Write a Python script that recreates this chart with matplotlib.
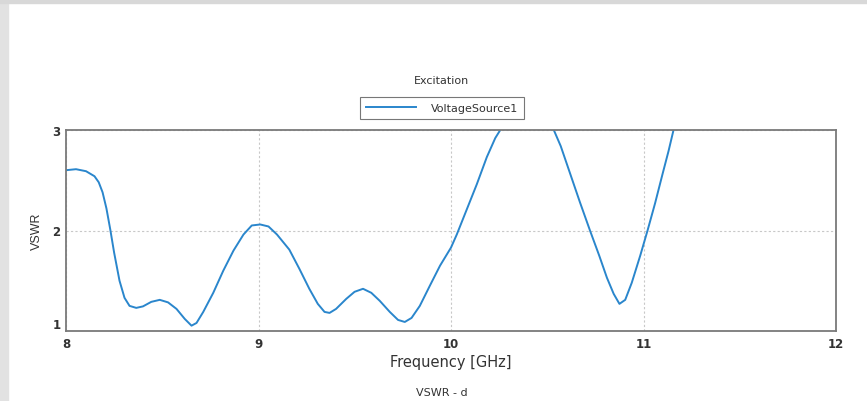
import matplotlib
matplotlib.use('Agg')
import matplotlib.pyplot as plt
from matplotlib.patches import Rectangle

# VSWR (values above 3 are clipped by the axes)
freq = [8.000, 8.052, 8.104, 8.148, 8.170, 8.190, 8.210, 8.230, 8.250, 8.278,
        8.304, 8.330, 8.365, 8.400, 8.443, 8.487, 8.530, 8.574, 8.617, 8.652,
        8.678, 8.713, 8.765, 8.817, 8.870, 8.922, 8.965, 9.009, 9.052, 9.096,
        9.160, 9.212, 9.264, 9.308, 9.343, 9.369, 9.403, 9.456, 9.499, 9.543,
        9.586, 9.630, 9.682, 9.725, 9.760, 9.795, 9.838, 9.890, 9.943, 10.000,
        10.030, 10.082, 10.134, 10.186, 10.230, 10.256, 10.300, 10.350, 10.400, 10.450,
        10.500, 10.534, 10.570, 10.620, 10.670, 10.722, 10.770, 10.810, 10.845, 10.875,
        10.905, 10.939, 10.983, 11.021, 11.060, 11.100, 11.130, 11.156, 11.200]
vswr = [2.60, 2.61, 2.59, 2.54, 2.48, 2.38, 2.22, 2.01, 1.78, 1.50,
        1.33, 1.25, 1.23, 1.245, 1.29, 1.31, 1.285, 1.22, 1.12, 1.053,
        1.08, 1.19, 1.38, 1.60, 1.80, 1.96, 2.05, 2.06, 2.04, 1.96,
        1.81, 1.62, 1.42, 1.27, 1.19, 1.18, 1.22, 1.32, 1.39, 1.42,
        1.38, 1.30, 1.19, 1.11, 1.09, 1.13, 1.25, 1.45, 1.65, 1.83,
        1.96, 2.21, 2.46, 2.73, 2.92, 3.00, 3.12, 3.22, 3.26, 3.22,
        3.12, 3.00, 2.84, 2.56, 2.28, 2.00, 1.75, 1.53, 1.37, 1.27,
        1.31, 1.48, 1.75, 2.00, 2.27, 2.57, 2.79, 3.00, 3.30]
x_ticks = [8, 9, 10, 11, 12]
y_ticks = [1, 2, 3]

fig = plt.figure(figsize=(8.67, 4.02), dpi=100)
plt.rcParams['font.family'] = ['DejaVu Sans']

# page edges of the scanned figure
fig.patches.append(Rectangle((0, 0), 8 / 867, 1, transform=fig.transFigure,
                             color='#e2e2e2', zorder=0))
fig.patches.append(Rectangle((0, 1 - 4 / 402), 1, 4 / 402, transform=fig.transFigure,
                             color='#d8d8d8', zorder=0))

ax = fig.add_axes([66 / 867, 1 - 332 / 402, 770 / 867, 201 / 402])
ax.plot(freq, vswr, color='#2a86cc', linewidth=1.4, label='VoltageSource1')
ax.set_xlim(8, 12)
ax.set_ylim(1, 3)
ax.set_xticks(x_ticks)
ax.set_yticks(y_ticks)
ax.tick_params(length=0, labelsize=8.5, colors='#333333', pad=4)
for lab in ax.get_xticklabels() + ax.get_yticklabels():
    lab.set_fontweight('bold')
ax.get_yticklabels()[0].set_va('bottom')
ax.grid(True, color='#c8c8c8', linestyle=(0, (2, 2)), linewidth=0.8)
for s in ax.spines.values():
    s.set_color('#7a7a7a')
    s.set_linewidth(1.3)

ax.set_xlabel('Frequency [GHz]', fontsize=10.5, color='#333333', labelpad=3)
ax.set_ylabel('VSWR', fontsize=9, color='#333333', labelpad=7,
              family='Liberation Sans')

leg = ax.legend(loc='lower center', bbox_to_anchor=(442 / 867, 1 - 120 / 402),
                bbox_transform=fig.transFigure, fontsize=8, frameon=True,
                fancybox=False, edgecolor='#555555', handlelength=4.5,
                borderpad=0.55, handletextpad=1.3, borderaxespad=0)
leg.get_frame().set_linewidth(0.8)
for t in leg.get_texts():
    t.set_color('#333333')

fig.text(442 / 867, 1 - 81 / 402, 'Excitation', ha='center', va='center',
         fontsize=8, color='#333333')
fig.text(442 / 867, 1 - 393 / 402, 'VSWR - d', ha='center', va='center',
         fontsize=8, color='#333333')

plt.savefig('out.png', dpi=100)
